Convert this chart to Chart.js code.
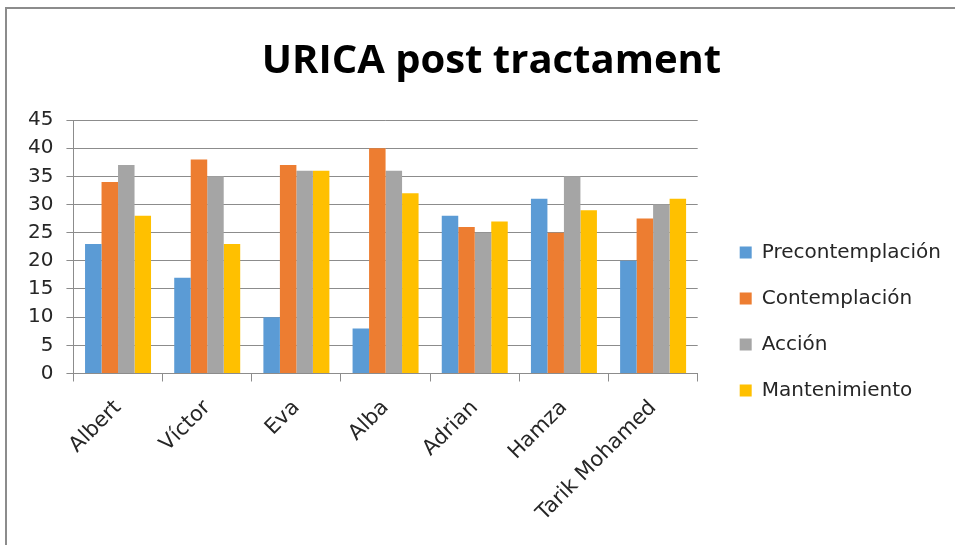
<!DOCTYPE html>
<html>
<head>
<meta charset="utf-8">
<script src="https://cdn.jsdelivr.net/npm/chart.js@4/dist/chart.umd.min.js"></script>
<style>
    html, body { margin: 0; padding: 0; background: #ffffff; }
    #wrap { position: relative; width: 955px; height: 545px; overflow: hidden; }
    #frame { position: absolute; left: 5px; top: 7px; width: 960px; height: 560px; border-top: 2px solid #8c8c8c; border-left: 2px solid #8c8c8c; }
    #title { position: absolute; left: 0; top: 38px; width: 983px; text-align: center; font: bold 40px "Open Sans", sans-serif; line-height: 40px; color: #000; }
    #chart { position: absolute; left: 0; top: 0; }
</style>
</head>
<body>
<div id="wrap">
    <div id="frame"></div>
    <canvas id="chart" width="955" height="545"></canvas>
    <div id="title">URICA post tractament</div>
</div>
<script>
const categories = ['Albert', 'Víctor', 'Eva', 'Alba', 'Adrian', 'Hamza', 'Tarik Mohamed'];
const precontemplacion = [23, 17, 10, 8, 28, 31, 20];
const contemplacion = [34, 38, 37, 40, 26, 25, 27.5];
const accion = [37, 35, 36, 36, 25, 35, 30];
const mantenimiento = [28, 23, 36, 32, 27, 29, 31];
const yTicks = [0, 5, 10, 15, 20, 25, 30, 35, 40, 45];

const gridColor = '#8c8c8c';
const textColor = '#262626';
const tickFont = { family: 'DejaVu Sans', size: 20 };

new Chart(document.getElementById('chart'), {
    type: 'bar',
    data: {
        labels: categories,
        datasets: [
            { label: 'Precontemplación', data: precontemplacion, backgroundColor: '#5b9bd5' },
            { label: 'Contemplación', data: contemplacion, backgroundColor: '#ed7d31' },
            { label: 'Acción', data: accion, backgroundColor: '#a5a5a5' },
            { label: 'Mantenimiento', data: mantenimiento, backgroundColor: '#ffc000' }
        ]
    },
    options: {
        responsive: false,
        animation: false,
        devicePixelRatio: 1,
        datasets: { bar: { barPercentage: 1, categoryPercentage: 0.74 } },
        layout: { padding: { left: 15, top: 120, right: 4, bottom: 5 } },
        plugins: {
            tooltip: { enabled: false },
            legend: {
                position: 'right',
                align: 'start',
                maxWidth: 260,
                title: { display: true, text: ' ', padding: { top: 82, bottom: 0 } },
                labels: { boxWidth: 12, boxHeight: 12, padding: 26, color: textColor, font: tickFont }
            }
        },
        scales: {
            x: {
                grid: { offset: true, drawOnChartArea: false, drawTicks: true, tickLength: 8, color: gridColor },
                border: { display: true, color: gridColor },
                ticks: { maxRotation: 45, minRotation: 45, padding: 14, color: textColor, font: { family: 'DejaVu Sans', size: 21 } }
            },
            y: {
                min: 0,
                max: 45,
                afterBuildTicks: s => { s.ticks = yTicks.map(v => ({ value: v })); },
                grid: { color: gridColor, tickLength: 7 },
                border: { display: true, color: gridColor },
                ticks: { padding: 13, color: textColor, font: tickFont }
            },
            gap: {
                position: 'right',
                display: true,
                grid: { display: false },
                border: { display: false },
                ticks: { display: false },
                afterFit: s => { s.width = 16; }
            }
        }
    }
});
</script>
</body>
</html>
